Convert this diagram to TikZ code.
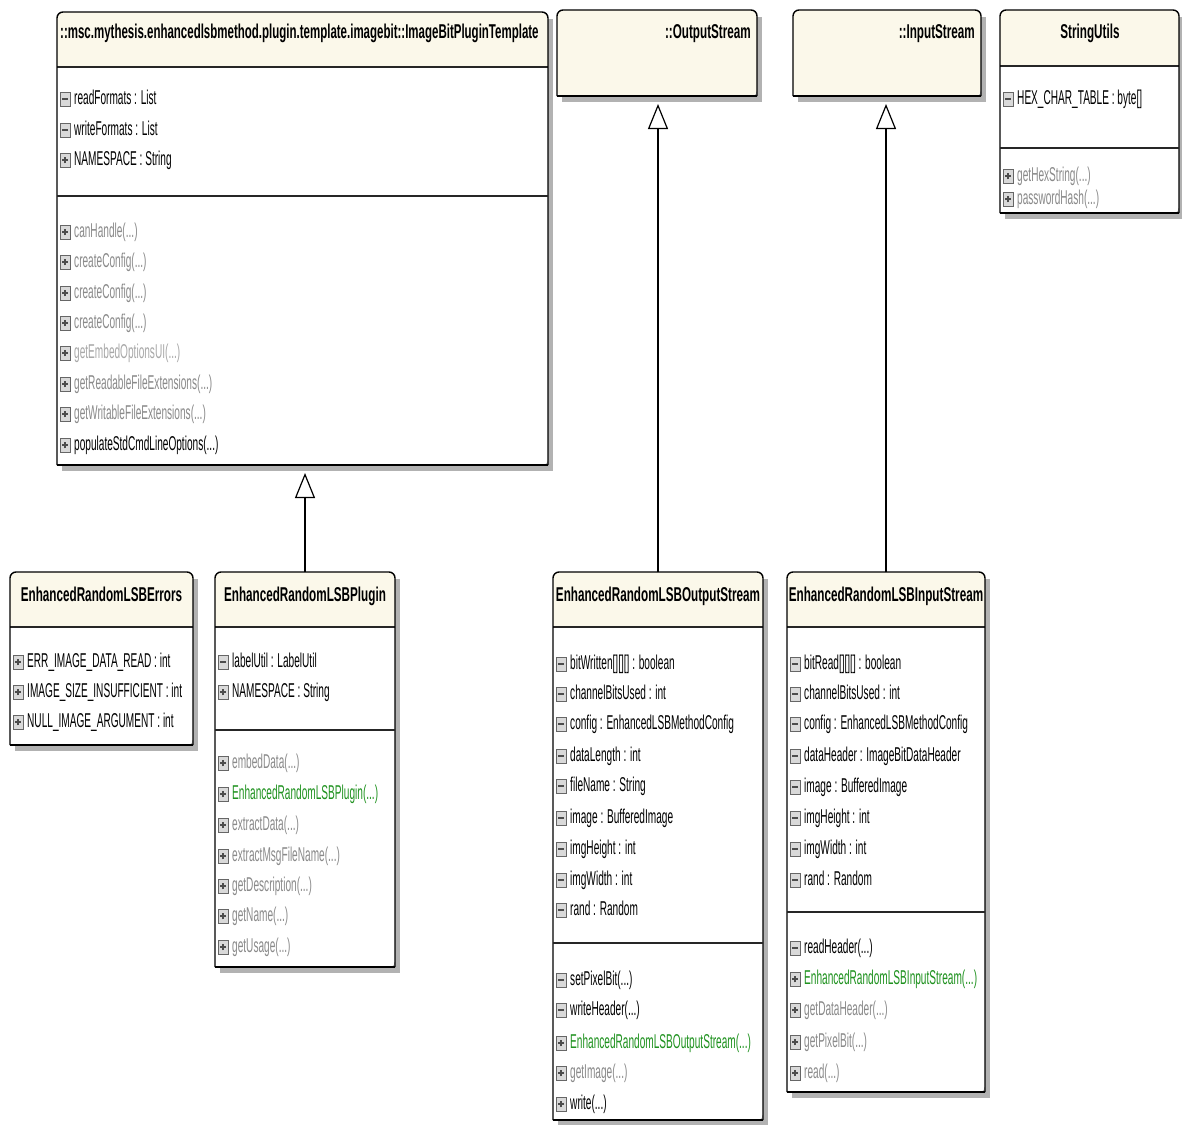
\documentclass[tikz,border=0pt]{standalone}
\usepackage{fontspec}
\usetikzlibrary{arrows.meta}
\newfontfamily\umlreg{Liberation Sans}[FakeStretch=0.505]
\newfontfamily\umlbold{Liberation Sans}[FakeStretch=0.585]
\newfontfamily\umlboldnarrow{Liberation Sans}[FakeStretch=0.575]

\definecolor{hdr}{HTML}{FBF8EA}
\definecolor{mgray}{HTML}{8A8A8A}
\definecolor{lgray}{HTML}{A8A8A8}
\definecolor{mgreen}{HTML}{1F921F}

\tikzset{
  classarea/.style={inner sep=0pt, outer sep=0pt},
  frameline/.style={line width=1.4pt, draw=black},
  sepline/.style={line width=1.8pt, draw=black!85},
  boxshadow/.style={fill=black!30},
  title/.style={inner sep=0pt, font=\umlbold\bfseries\fontsize{20}{22}\selectfont,
                text height=14pt, text depth=4pt},
  longtitle/.style={title, font=\umlboldnarrow\bfseries\fontsize{20}{22}\selectfont},
  member/.style={inner sep=0pt, anchor=west, font=\umlreg\fontsize{20}{22}\selectfont,
                 text height=14pt, text depth=4pt},
  icon/.style={draw=black!60, fill=black!15, line width=0.9pt, minimum width=10pt,
               minimum height=14pt, inner sep=0pt},
  pub/.style={icon, path picture={
      \draw[black!70, line width=1.4pt]
        ([xshift=-2.8pt]path picture bounding box.center) -- ([xshift=2.8pt]path picture bounding box.center)
        ([yshift=-3.4pt]path picture bounding box.center) -- ([yshift=3.4pt]path picture bounding box.center);}},
  priv/.style={icon, path picture={
      \draw[black!70, line width=1.4pt]
        ([xshift=-2.8pt]path picture bounding box.center) -- ([xshift=2.8pt]path picture bounding box.center);}},
  inherit/.style={line width=2.8pt,
      -{Triangle[width=20pt, length=25pt, fill=white, line width=1.2pt]}, shorten >=8pt}
}

% class frame: name, left, top, right, bottom, lower edge of the name compartment
\newcommand\umlclass[6]{%
  \pgfmathsetmacro\boxw{#4-#2}\pgfmathsetmacro\boxh{#5-#3}%
  \fill[boxshadow] (#2+5,#3+7) rectangle (#4+5,#5+6);
  \begin{scope}
    \clip[rounded corners=6pt] (#2,#5) -- (#2,#3) -- (#4,#3) -- (#4,#5) -- cycle;
    \fill[white] (#2,#3) rectangle (#4,#5);
    \fill[hdr] (#2,#3) rectangle (#4,#6);
  \end{scope}
  \node[classarea, minimum width=\boxw pt, minimum height=\boxh pt, anchor=north west] (#1) at (#2,#3) {};
  \draw[sepline] (#2,#6) -- (#4,#6);
  \draw[frameline, rounded corners=6pt] (#2,#5) -- (#2,#3) -- (#4,#3) -- (#4,#5);
  \draw[frameline] (#2,#5) -- (#4,#5);
}
% compartment separator: left, right, y
\newcommand\umlsep[3]{\draw[sepline] (#1,#3) -- (#2,#3);}
% member row: name, left edge of class, y, visibility, colour, text
\newcommand\umlmember[6]{%
  \node[#4] (#1-v) at (#2+8,#3) {};
  \node[member, text=#5] (#1) at (#2+17,#3) {#6};
}

\begin{document}
\begin{tikzpicture}[x=1pt,y=-1pt]
\useasboundingbox[fill=white] (0,0) rectangle (1182,1124);

% ImageBitPluginTemplate
\umlclass{tmpl}{57}{12}{548}{465}{67}
\node[longtitle, anchor=west] (tmpl-t) at (60,33) {::msc.mythesis.enhancedlsbmethod.plugin.template.imagebit::ImageBitPluginTemplate};
\umlmember{tmpl-a1}{57}{99}{priv}{black}{readFormats : List}
\umlmember{tmpl-a2}{57}{130}{priv}{black}{writeFormats : List}
\umlmember{tmpl-a3}{57}{160}{pub}{black}{NAMESPACE : String}
\umlsep{57}{548}{196}
\umlmember{tmpl-m1}{57}{232}{pub}{mgray}{canHandle(...)}
\umlmember{tmpl-m2}{57}{262}{pub}{mgray}{createConfig(...)}
\umlmember{tmpl-m3}{57}{293}{pub}{mgray}{createConfig(...)}
\umlmember{tmpl-m4}{57}{323}{pub}{mgray}{createConfig(...)}
\umlmember{tmpl-m5}{57}{353}{pub}{lgray}{getEmbedOptionsUI(...)}
\umlmember{tmpl-m6}{57}{384}{pub}{mgray}{getReadableFileExtensions(...)}
\umlmember{tmpl-m7}{57}{414}{pub}{mgray}{getWritableFileExtensions(...)}
\umlmember{tmpl-m8}{57}{445}{pub}{black}{populateStdCmdLineOptions(...)}

% OutputStream
\umlclass{os}{557}{10}{757}{96}{96}
\node[title, anchor=east] (os-t) at (751,33) {::OutputStream};

% InputStream
\umlclass{is}{793}{10}{981}{96}{96}
\node[title, anchor=east] (is-t) at (975,33) {::InputStream};

% StringUtils
\umlclass{su}{1000}{10}{1179}{213}{66}
\node[title] (su-t) at (1090,33) {StringUtils};
\umlmember{su-a1}{1000}{99}{priv}{black}{HEX\_CHAR\_TABLE : byte[]}
\umlsep{1000}{1179}{148}
\umlmember{su-m1}{1000}{176}{pub}{mgray}{getHexString(...)}
\umlmember{su-m2}{1000}{199}{pub}{mgray}{passwordHash(...)}

% EnhancedRandomLSBErrors
\umlclass{err}{10}{572}{193}{745}{627}
\node[title] (err-t) at (101.5,596) {EnhancedRandomLSBErrors};
\umlmember{err-a1}{10}{662}{pub}{black}{ERR\_IMAGE\_DATA\_READ : int}
\umlmember{err-a2}{10}{692}{pub}{black}{IMAGE\_SIZE\_INSUFFICIENT : int}
\umlmember{err-a3}{10}{722}{pub}{black}{NULL\_IMAGE\_ARGUMENT : int}

% EnhancedRandomLSBPlugin
\umlclass{plg}{215}{572}{395}{967}{627}
\node[title] (plg-t) at (305,596) {EnhancedRandomLSBPlugin};
\umlmember{plg-a1}{215}{662}{priv}{black}{labelUtil : LabelUtil}
\umlmember{plg-a2}{215}{692}{pub}{black}{NAMESPACE : String}
\umlsep{215}{395}{730}
\umlmember{plg-m1}{215}{763}{pub}{mgray}{embedData(...)}
\umlmember{plg-m2}{215}{794}{pub}{mgreen}{EnhancedRandomLSBPlugin(...)}
\umlmember{plg-m3}{215}{825}{pub}{mgray}{extractData(...)}
\umlmember{plg-m4}{215}{856}{pub}{mgray}{extractMsgFileName(...)}
\umlmember{plg-m5}{215}{886}{pub}{mgray}{getDescription(...)}
\umlmember{plg-m6}{215}{916}{pub}{mgray}{getName(...)}
\umlmember{plg-m7}{215}{947}{pub}{mgray}{getUsage(...)}

% EnhancedRandomLSBOutputStream
\umlclass{eos}{553}{572}{763}{1120}{627}
\node[title] (eos-t) at (658,596) {EnhancedRandomLSBOutputStream};
\umlmember{eos-a1}{553}{664}{priv}{black}{bitWritten[][][] : boolean}
\umlmember{eos-a2}{553}{694}{priv}{black}{channelBitsUsed : int}
\umlmember{eos-a3}{553}{724}{priv}{black}{config : EnhancedLSBMethodConfig}
\umlmember{eos-a4}{553}{756}{priv}{black}{dataLength : int}
\umlmember{eos-a5}{553}{786}{priv}{black}{fileName : String}
\umlmember{eos-a6}{553}{818}{priv}{black}{image : BufferedImage}
\umlmember{eos-a7}{553}{849}{priv}{black}{imgHeight : int}
\umlmember{eos-a8}{553}{880}{priv}{black}{imgWidth : int}
\umlmember{eos-a9}{553}{910}{priv}{black}{rand : Random}
\umlsep{553}{763}{943}
\umlmember{eos-m1}{553}{980}{priv}{black}{setPixelBit(...)}
\umlmember{eos-m2}{553}{1010}{priv}{black}{writeHeader(...)}
\umlmember{eos-m3}{553}{1043}{pub}{mgreen}{EnhancedRandomLSBOutputStream(...)}
\umlmember{eos-m4}{553}{1073}{pub}{mgray}{getImage(...)}
\umlmember{eos-m5}{553}{1104}{pub}{black}{write(...)}

% EnhancedRandomLSBInputStream
\umlclass{eis}{787}{572}{985}{1092}{627}
\node[title] (eis-t) at (886,596) {EnhancedRandomLSBInputStream};
\umlmember{eis-a1}{787}{664}{priv}{black}{bitRead[][][] : boolean}
\umlmember{eis-a2}{787}{694}{priv}{black}{channelBitsUsed : int}
\umlmember{eis-a3}{787}{724}{priv}{black}{config : EnhancedLSBMethodConfig}
\umlmember{eis-a4}{787}{756}{priv}{black}{dataHeader : ImageBitDataHeader}
\umlmember{eis-a5}{787}{787}{priv}{black}{image : BufferedImage}
\umlmember{eis-a6}{787}{818}{priv}{black}{imgHeight : int}
\umlmember{eis-a7}{787}{849}{priv}{black}{imgWidth : int}
\umlmember{eis-a8}{787}{880}{priv}{black}{rand : Random}
\umlsep{787}{985}{912}
\umlmember{eis-m1}{787}{948}{priv}{black}{readHeader(...)}
\umlmember{eis-m2}{787}{979}{pub}{mgreen}{EnhancedRandomLSBInputStream(...)}
\umlmember{eis-m3}{787}{1010}{pub}{mgray}{getDataHeader(...)}
\umlmember{eis-m4}{787}{1042}{pub}{mgray}{getPixelBit(...)}
\umlmember{eis-m5}{787}{1073}{pub}{mgray}{read(...)}

% generalisations
\draw[inherit] (plg.north) -- (plg.north |- tmpl.south);
\draw[inherit] (eos.north) -- (eos.north |- os.south);
\draw[inherit] (eis.north) -- (eis.north |- is.south);
\end{tikzpicture}
\end{document}
